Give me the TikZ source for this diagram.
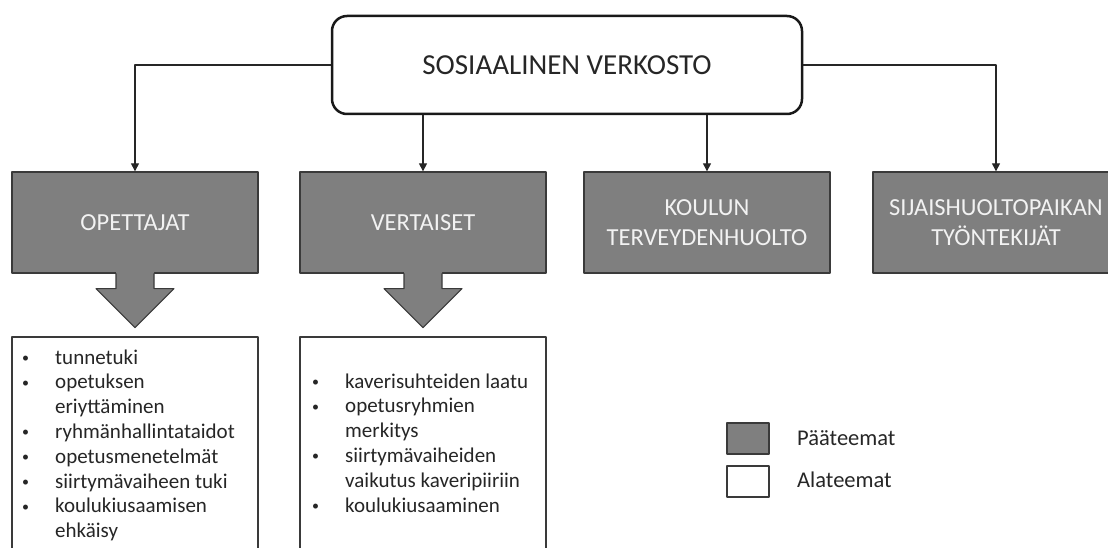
\documentclass[tikz,border=0pt]{standalone}
\usepackage{fontspec}
\setmainfont{Carlito}
\usetikzlibrary{arrows.meta}

\definecolor{teemagray}{HTML}{7F7F7F}
\definecolor{reuna}{HTML}{3A3A3A}
\definecolor{teksti}{HTML}{262626}

\newcommand{\bul}{\makebox[33pt][l]{\raisebox{1.5pt}{\fontsize{14}{14}\selectfont\textbullet}}}
\newcommand{\jatko}{\hspace*{33pt}}

\tikzset{
  paateema/.style={draw=reuna, line width=1.3pt, fill=teemagray, text=white!95!black,
    minimum width=246pt, minimum height=101pt, inner sep=0pt, align=center,
    font=\fontsize{24.5}{30}\selectfont},
  alateema/.style={draw=reuna, line width=1.1pt, fill=white, minimum width=246pt,
    minimum height=230pt, inner sep=0pt},
  lista/.style={anchor=base west, align=left, inner sep=0pt, text=teksti,
    font=\fontsize{21}{24.8}\selectfont},
  selite/.style={draw=reuna, line width=1.1pt, minimum width=42pt, minimum height=31pt, inner sep=0pt},
  selitekst/.style={anchor=base west, inner sep=0pt, text=teksti, font=\fontsize{22.5}{27}\selectfont},
  yhteys/.style={draw=teksti, line width=1.1pt, -{Triangle[length=8pt,width=8pt]}},
  isonuoli/.style={draw=reuna, line width=1.1pt, fill=teemagray},
}

\begin{document}
\begin{tikzpicture}[x=1pt, y=-1pt, line cap=round, line join=round]
\useasboundingbox (0,0) rectangle (1108,548);

\node[draw=black!90, line width=2.5pt, rounded corners=15pt, minimum width=470pt, minimum height=98pt,
  text=teksti, font=\fontsize{29}{35}\selectfont] (verkosto) at (567,65) {SOSIAALINEN VERKOSTO};

\node[paateema] (opettajat) at (135,222.5) {OPETTAJAT};
\node[paateema] (vertaiset) at (423,222.5) {VERTAISET};
\node[paateema] (koulun) at (707,222.5) {KOULUN\\TERVEYDENHUOLTO};
\node[paateema] (sijais) at (996,222.5) {SIJAISHUOLTOPAIKAN\\TYÖNTEKIJÄT};

\draw[yhteys] (verkosto.west) -| (opettajat.north);
\draw[yhteys] (verkosto.south -| vertaiset.north) -- (vertaiset.north);
\draw[yhteys] (verkosto.south -| koulun.north) -- (koulun.north);
\draw[yhteys] (verkosto.east) -| (sijais.north);

\foreach \n in {opettajat,vertaiset}{
  \fill[teemagray, shift={(\n.south)}] (-19,-1.5) -- (-19,15) -- (-39,15) -- (0,54) -- (39,15) -- (19,15) -- (19,-1.5) -- cycle;
  \draw[isonuoli, fill=none, shift={(\n.south)}] (-19,0) -- (-19,15) -- (-39,15) -- (0,54) -- (39,15) -- (19,15) -- (19,0);
}

\node[alateema] (opettajalista) at (135,452) {};
\node[alateema] (vertaislista) at (423,452) {};

\node[lista] (opettajateksti) at (22,537.6) {\bul tunnetuki\\\bul opetuksen\\\jatko eriyttäminen\\\bul ryhmänhallintataidot\\\bul opetusmenetelmät\\\bul siirtymävaiheen tuki\\\bul koulukiusaamisen\\\jatko ehkäisy};
\node[lista] (vertaisteksti) at (312,512) {\bul kaverisuhteiden laatu\\\bul opetusryhmien\\\jatko merkitys\\\bul siirtymävaiheiden\\\jatko vaikutus kaveripiiriin\\\bul koulukiusaaminen};

\node[selite, fill=teemagray] (paaselite) at (748,438.5) {};
\node[selite, fill=white] (alaselite) at (748,481.5) {};
\node[selitekst] (paateksti) at (797,445) {Pääteemat};
\node[selitekst] (alateksti) at (797,487) {Alateemat};
\end{tikzpicture}
\end{document}
